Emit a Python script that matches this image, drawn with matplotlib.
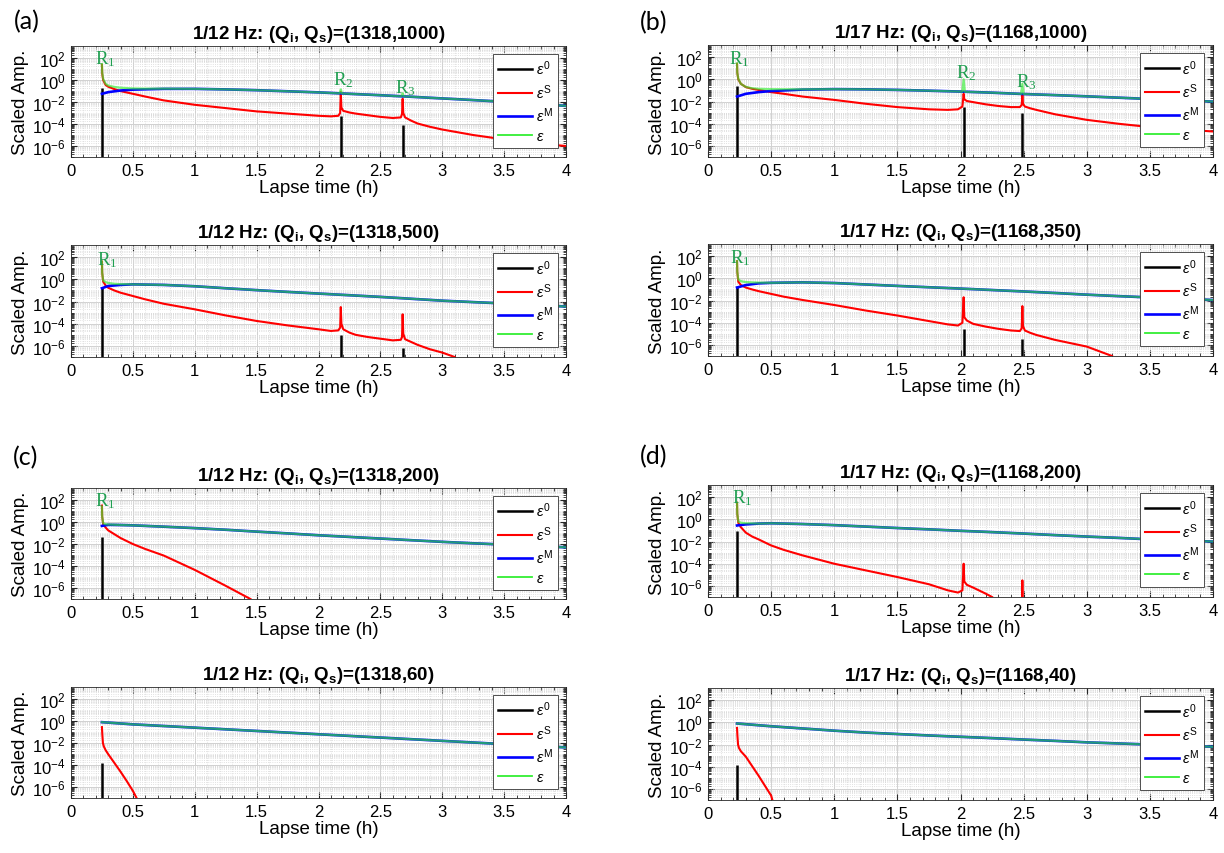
import numpy as np
import matplotlib.pyplot as plt
from matplotlib.lines import Line2D
from matplotlib.ticker import FixedLocator, FixedFormatter, MultipleLocator, LogLocator, NullFormatter

plt.rcParams['font.family'] = ['Liberation Sans', 'DejaVu Sans']
plt.rcParams['mathtext.fontset'] = 'custom'
plt.rcParams['mathtext.rm'] = 'Liberation Sans'
plt.rcParams['mathtext.it'] = 'Liberation Sans:italic'
plt.rcParams['mathtext.bf'] = 'Liberation Sans:bold'

# all amplitudes below are log10(scaled amplitude), times in hours
# ---- (a) top : 1/12 Hz, Qi=1318, Qs=1000
a1_t0 = [0.25, 2.18, 2.68]
a1_e0 = [-0.7, -3.3, -4.1]
a1_tS = [0.25, 0.252, 0.26, 0.28, 0.30, 0.35, 0.40, 0.50, 0.60, 0.75, 1.00, 1.25, 1.50, 1.75, 2.00,
         2.10, 2.16, 2.175, 2.18, 2.185, 2.20, 2.25, 2.30, 2.40, 2.50, 2.60, 2.665, 2.675, 2.68,
         2.685, 2.70, 2.75, 2.80, 2.90, 3.00, 3.25, 3.50, 3.75, 4.00]
a1_eS = [1.4, 0.6, 0.0, -0.45, -0.6, -0.82, -1.0, -1.25, -1.5, -1.85, -2.25, -2.55, -2.85, -3.05, -3.25,
         -3.3, -3.25, -3.0, -1.1, -2.5, -2.8, -2.95, -3.05, -3.2, -3.35, -3.45, -3.4, -3.1, -1.7,
         -3.0, -3.4, -3.7, -3.95, -4.25, -4.5, -5.0, -5.4, -5.75, -6.0]
a1_tM = [0.25, 0.3, 0.4, 0.5, 0.75, 1.0, 1.25, 1.5, 1.75, 2.0, 2.25, 2.5, 2.75, 3.0, 3.25, 3.5, 3.75, 4.0]
a1_eM = [-1.25, -1.1, -0.95, -0.87, -0.8, -0.8, -0.85, -0.92, -1.02, -1.12, -1.25, -1.38, -1.52, -1.67,
         -1.82, -1.98, -2.15, -2.35]
a1_tE = [0.25, 0.252, 0.26, 0.28, 0.30, 0.35, 0.40, 0.50, 0.60, 0.75, 1.0, 1.25, 1.5, 1.75, 2.0, 2.17,
         2.18, 2.19, 2.25, 2.5, 2.67, 2.68, 2.69, 2.75, 3.0, 3.25, 3.5, 3.75, 4.0]
a1_eE = [1.45, 0.7, 0.1, -0.35, -0.5, -0.62, -0.7, -0.76, -0.78, -0.78, -0.8, -0.85, -0.92, -1.02, -1.12,
         -1.21, -0.85, -1.22, -1.25, -1.38, -1.48, -1.2, -1.49, -1.52, -1.67, -1.82, -1.98, -2.15, -2.35]

# ---- (a) bottom : 1/12 Hz, Qi=1318, Qs=500
a2_t0 = [0.25, 2.18, 2.68]
a2_e0 = [-0.75, -5.05, -6.2]
a2_tS = [0.25, 0.252, 0.26, 0.28, 0.30, 0.35, 0.40, 0.50, 0.60, 0.75, 1.0, 1.25, 1.5, 1.75, 2.0, 2.10,
         2.16, 2.175, 2.18, 2.185, 2.20, 2.25, 2.30, 2.40, 2.50, 2.60, 2.665, 2.675, 2.68, 2.685,
         2.70, 2.75, 2.80, 2.90, 3.00, 3.10]
a2_eS = [1.6, 0.6, -0.2, -0.55, -0.75, -1.0, -1.2, -1.5, -1.8, -2.2, -2.7, -3.25, -3.75, -4.15, -4.5,
         -4.65, -4.6, -4.35, -2.5, -4.0, -4.5, -4.8, -5.0, -5.2, -5.35, -5.5, -5.45, -5.2, -3.15,
         -4.9, -5.4, -5.65, -5.9, -6.3, -6.6, -7.0]
a2_tM = a1_tM
a2_eM = [-0.8, -0.6, -0.5, -0.45, -0.5, -0.62, -0.8, -0.97, -1.13, -1.28, -1.43, -1.58, -1.75, -1.92,
         -2.05, -2.17, -2.3, -2.45]
a2_tE = [0.25, 0.252, 0.26, 0.28, 0.30, 0.35, 0.40, 0.5, 0.75, 1.0, 1.25, 1.5, 1.75, 2.0, 2.25, 2.5,
         2.75, 3.0, 3.25, 3.5, 3.75, 4.0]
a2_eE = [1.6, 0.6, -0.1, -0.25, -0.32, -0.4, -0.43, -0.45, -0.5, -0.62, -0.8, -0.97, -1.13, -1.28,
         -1.43, -1.58, -1.75, -1.92, -2.05, -2.17, -2.3, -2.45]

# ---- (b) top : 1/17 Hz, Qi=1168, Qs=1000
b1_t0 = [0.23, 2.025, 2.49]
b1_e0 = [-0.6, -2.5, -3.05]
b1_tS = [0.23, 0.232, 0.24, 0.26, 0.28, 0.30, 0.35, 0.40, 0.50, 0.60, 0.75, 1.0, 1.25, 1.5, 1.75, 1.9,
         1.98, 2.015, 2.025, 2.03, 2.05, 2.10, 2.2, 2.3, 2.4, 2.47, 2.485, 2.49, 2.495, 2.51, 2.55,
         2.6, 2.75, 3.0, 3.25, 3.5, 3.75, 4.0]
b1_eS = [1.4, 0.6, 0.0, -0.4, -0.55, -0.7, -0.85, -0.95, -1.15, -1.3, -1.55, -1.85, -2.2, -2.5, -2.7,
         -2.75, -2.7, -2.45, -1.3, -1.8, -1.95, -2.05, -2.25, -2.4, -2.5, -2.5, -2.3, -1.4, -2.2,
         -2.45, -2.6, -2.75, -3.15, -3.65, -4.0, -4.3, -4.5, -4.7]
b1_tM = [0.23, 0.3, 0.4, 0.5, 0.75, 1.0, 1.25, 1.5, 1.75, 2.0, 2.25, 2.5, 2.75, 3.0, 3.25, 3.5, 3.75, 4.0]
b1_eM = [-1.55, -1.3, -1.15, -1.05, -0.92, -0.88, -0.9, -0.95, -1.02, -1.1, -1.2, -1.32, -1.42, -1.53,
         -1.65, -1.77, -1.9, -2.0]
b1_tE = [0.23, 0.232, 0.24, 0.26, 0.28, 0.30, 0.35, 0.40, 0.5, 0.6, 0.75, 1.0, 1.25, 1.5, 1.75, 2.0,
         2.015, 2.025, 2.035, 2.25, 2.48, 2.49, 2.5, 2.75, 3.0, 3.25, 3.5, 3.75, 4.0]
b1_eE = [1.45, 0.6, 0.05, -0.4, -0.55, -0.68, -0.8, -0.85, -0.88, -0.89, -0.9, -0.88, -0.9, -0.95, -1.02,
         -1.1, -1.11, 0.0, -1.12, -1.2, -1.31, -0.4, -1.32, -1.42, -1.53, -1.65, -1.77, -1.9, -2.0]

# ---- (b) bottom : 1/17 Hz, Qi=1168, Qs=350
b2_t0 = [0.23, 2.025, 2.49]
b2_e0 = [-0.7, -4.55, -5.5]
b2_tS = [0.23, 0.232, 0.24, 0.26, 0.28, 0.30, 0.35, 0.40, 0.50, 0.60, 0.75, 1.0, 1.25, 1.5, 1.75, 1.9,
         1.98, 2.015, 2.025, 2.03, 2.05, 2.10, 2.2, 2.3, 2.4, 2.47, 2.485, 2.49, 2.495, 2.51, 2.55,
         2.6, 2.75, 3.0, 3.2]
b2_eS = [1.55, 0.6, -0.3, -0.6, -0.72, -0.83, -1.0, -1.15, -1.4, -1.65, -1.95, -2.4, -2.9, -3.35, -3.85,
         -4.15, -4.25, -4.0, -1.7, -3.5, -3.8, -4.1, -4.35, -4.55, -4.7, -4.75, -4.5, -2.5, -4.3,
         -4.7, -4.9, -5.1, -5.55, -6.15, -7.0]
b2_tM = b1_tM
b2_eM = [-0.83, -0.6, -0.45, -0.4, -0.36, -0.42, -0.55, -0.68, -0.8, -0.92, -1.05, -1.18, -1.32, -1.47,
         -1.6, -1.72, -1.83, -1.95]
b2_tE = [0.23, 0.232, 0.24, 0.26, 0.28, 0.30, 0.35, 0.40, 0.5, 0.75, 1.0, 1.25, 1.5, 1.75, 2.0, 2.25,
         2.5, 2.75, 3.0, 3.25, 3.5, 3.75, 4.0]
b2_eE = [1.55, 0.6, -0.1, -0.25, -0.3, -0.33, -0.36, -0.38, -0.4, -0.36, -0.42, -0.55, -0.68, -0.8,
         -0.92, -1.05, -1.18, -1.32, -1.47, -1.6, -1.72, -1.83, -1.95]

# ---- (c) top : 1/12 Hz, Qi=1318, Qs=200
c1_t0 = [0.25]
c1_e0 = [-1.4]
c1_tS = [0.25, 0.252, 0.26, 0.28, 0.30, 0.35, 0.40, 0.50, 0.60, 0.75, 1.0, 1.25, 1.45]
c1_eS = [1.5, 0.5, -0.2, -0.5, -0.75, -1.1, -1.45, -2.0, -2.45, -3.05, -4.35, -5.8, -7.0]
c1_tM = a1_tM
c1_eM = [-0.35, -0.25, -0.27, -0.3, -0.42, -0.55, -0.7, -0.87, -1.03, -1.2, -1.35, -1.5, -1.65, -1.8,
         -1.93, -2.05, -2.17, -2.3]
c1_tE = [0.25, 0.252, 0.26, 0.28, 0.30, 0.4, 0.5, 0.75, 1.0, 1.25, 1.5, 1.75, 2.0, 2.25, 2.5, 2.75,
         3.0, 3.25, 3.5, 3.75, 4.0]
c1_eE = [1.4, 0.5, -0.1, -0.2, -0.22, -0.27, -0.3, -0.42, -0.55, -0.7, -0.87, -1.03, -1.2, -1.35, -1.5,
         -1.65, -1.8, -1.93, -2.05, -2.17, -2.3]

# ---- (c) bottom : 1/12 Hz, Qi=1318, Qs=60
c2_t0 = [0.25]
c2_e0 = [-3.8]
c2_tS = [0.25, 0.253, 0.258, 0.265, 0.28, 0.30, 0.35, 0.40, 0.45, 0.50, 0.53]
c2_eS = [-0.55, -1.2, -2.0, -2.3, -2.65, -3.0, -3.8, -4.6, -5.45, -6.35, -7.0]
c2_tM = [0.25, 0.5, 0.75, 1.0, 1.25, 1.5, 1.75, 2.0, 2.25, 2.5, 2.75, 3.0, 3.25, 3.5, 3.75, 4.0]
c2_eM = [-0.1, -0.3, -0.45, -0.6, -0.75, -0.9, -1.05, -1.2, -1.35, -1.5, -1.65, -1.8, -1.95, -2.1,
         -2.25, -2.4]
c2_tE = c2_tM
c2_eE = c2_eM

# ---- (d) top : 1/17 Hz, Qi=1168, Qs=200
d1_t0 = [0.23]
d1_e0 = [-1.05]
d1_tS = [0.23, 0.232, 0.24, 0.26, 0.28, 0.30, 0.35, 0.40, 0.50, 0.60, 0.75, 1.0, 1.25, 1.5, 1.75, 1.9,
         1.98, 2.015, 2.025, 2.03, 2.05, 2.10, 2.2, 2.25, np.nan, 2.488, 2.49, 2.492]
d1_eS = [1.5, 0.5, -0.3, -0.7, -0.95, -1.2, -1.55, -1.8, -2.35, -2.75, -3.25, -4.0, -4.6, -5.2, -5.85,
         -6.4, -6.6, -6.4, -4.0, -5.6, -5.9, -6.15, -6.7, -7.0, np.nan, -7.5, -5.5, -7.5]
d1_tM = b1_tM
d1_eM = [-0.55, -0.45, -0.38, -0.35, -0.42, -0.52, -0.65, -0.78, -0.9, -1.03, -1.15, -1.28, -1.42, -1.55,
         -1.67, -1.8, -1.9, -2.0]
d1_tE = [0.23, 0.232, 0.24, 0.26, 0.30, 0.4, 0.5, 0.75, 1.0, 1.25, 1.5, 1.75, 2.0, 2.25, 2.5, 2.75,
         3.0, 3.25, 3.5, 3.75, 4.0]
d1_eE = [1.5, 0.5, -0.2, -0.3, -0.35, -0.38, -0.35, -0.42, -0.52, -0.65, -0.78, -0.9, -1.03, -1.15,
         -1.28, -1.42, -1.55, -1.67, -1.8, -1.9, -2.0]

# ---- (d) bottom : 1/17 Hz, Qi=1168, Qs=40
d2_t0 = [0.23]
d2_e0 = [-3.8]
d2_tS = [0.23, 0.233, 0.238, 0.245, 0.26, 0.28, 0.30, 0.35, 0.40, 0.45, 0.50, 0.51]
d2_eS = [-0.5, -1.2, -2.0, -2.3, -2.6, -2.85, -3.1, -3.95, -4.8, -5.7, -6.6, -7.0]
d2_tM = [0.23, 0.5, 0.75, 1.0, 1.25, 1.5, 1.75, 2.0, 2.25, 2.5, 2.75, 3.0, 3.25, 3.5, 3.75, 4.0]
d2_eM = [-0.1, -0.35, -0.55, -0.75, -0.92, -1.05, -1.18, -1.3, -1.42, -1.55, -1.67, -1.8, -1.9, -2.0,
         -2.1, -2.2]
d2_tE = d2_tM
d2_eE = d2_eM

# peak labels: (subscript, time, log10 amp)
a1_R = [('1', 0.28, 2.0), ('2', 2.20, 0.05), ('3', 2.705, -0.6)]
a2_R = [('1', 0.29, 1.85)]
b1_R = [('1', 0.25, 1.95), ('2', 2.045, 0.68), ('3', 2.52, -0.2)]
b2_R = [('1', 0.254, 1.95)]
c1_R = [('1', 0.275, 2.0)]
c2_R = []
d1_R = [('1', 0.27, 2.0)]
d2_R = []

titles = {
    'a1': r'1/12 Hz: (Q$_\mathbf{i}$, Q$_\mathbf{s}$)=(1318,1000)',
    'a2': r'1/12 Hz: (Q$_\mathbf{i}$, Q$_\mathbf{s}$)=(1318,500)',
    'b1': r'1/17 Hz: (Q$_\mathbf{i}$, Q$_\mathbf{s}$)=(1168,1000)',
    'b2': r'1/17 Hz: (Q$_\mathbf{i}$, Q$_\mathbf{s}$)=(1168,350)',
    'c1': r'1/12 Hz: (Q$_\mathbf{i}$, Q$_\mathbf{s}$)=(1318,200)',
    'c2': r'1/12 Hz: (Q$_\mathbf{i}$, Q$_\mathbf{s}$)=(1318,60)',
    'd1': r'1/17 Hz: (Q$_\mathbf{i}$, Q$_\mathbf{s}$)=(1168,200)',
    'd2': r'1/17 Hz: (Q$_\mathbf{i}$, Q$_\mathbf{s}$)=(1168,40)',
}

panels = {
    'a1': (a1_t0, a1_e0, a1_tS, a1_eS, a1_tM, a1_eM, a1_tE, a1_eE, a1_R),
    'a2': (a2_t0, a2_e0, a2_tS, a2_eS, a2_tM, a2_eM, a2_tE, a2_eE, a2_R),
    'b1': (b1_t0, b1_e0, b1_tS, b1_eS, b1_tM, b1_eM, b1_tE, b1_eE, b1_R),
    'b2': (b2_t0, b2_e0, b2_tS, b2_eS, b2_tM, b2_eM, b2_tE, b2_eE, b2_R),
    'c1': (c1_t0, c1_e0, c1_tS, c1_eS, c1_tM, c1_eM, c1_tE, c1_eE, c1_R),
    'c2': (c2_t0, c2_e0, c2_tS, c2_eS, c2_tM, c2_eM, c2_tE, c2_eE, c2_R),
    'd1': (d1_t0, d1_e0, d1_tS, d1_eS, d1_tM, d1_eM, d1_tE, d1_eE, d1_R),
    'd2': (d2_t0, d2_e0, d2_tS, d2_eS, d2_tM, d2_eM, d2_tE, d2_eE, d2_R),
}

xticks = [0, 0.5, 1, 1.5, 2, 2.5, 3, 3.5, 4]
xticklabels = ['0', '0.5', '1', '1.5', '2', '2.5', '3', '3.5', '4']
yticks = [1e-6, 1e-4, 1e-2, 1e0, 1e2]
yticklabels = [r'$10^{-6}$', r'$10^{-4}$', r'$10^{-2}$', r'$10^{0}$', r'$10^{2}$']
leg_labels = [r'$\epsilon^{\mathrm{0}}$', r'$\epsilon^{\mathrm{S}}$', r'$\epsilon^{\mathrm{M}}$',
              r'$\epsilon$']

col_red = '#ff0000'
col_blue = '#0000ff'
col_green = '#33ee33'
col_R = '#1f9e50'

# pixel layout of the 1224x854 figure
W, H = 1224, 854
cols = {'a': (71, 566), 'c': (71, 566), 'b': (708, 1213), 'd': (708, 1213)}
rows = {'a1': (47, 158), 'a2': (246, 358), 'b1': (46, 158), 'b2': (245, 357),
        'c1': (489, 600), 'c2': (688, 799), 'd1': (486, 598), 'd2': (689, 801)}

fig = plt.figure(figsize=(12.24, 8.54), dpi=100)

for key, (t0, e0, tS, eS, tM, eM, tE, eE, Rs) in panels.items():
    x0, x1 = cols[key[0]]
    top, bot = rows[key]
    ax = fig.add_axes([x0 / W, 1 - bot / H, (x1 - x0) / W, (bot - top) / H])

    ax.vlines(t0, 1e-9, 10 ** np.array(e0), color='k', lw=1.8, zorder=2)
    ax.plot(tS, 10 ** np.array(eS), color=col_red, lw=1.5, zorder=3)
    ax.plot(tM, 10 ** np.array(eM), color=col_blue, lw=1.9, zorder=4)
    ax.plot(tE, 10 ** np.array(eE), color=col_green, lw=1.6, alpha=0.65, zorder=5)

    for sub, tx, ly in Rs:
        ax.text(tx, 10 ** ly, r'$\mathregular{R_' + sub + '}$', family='Liberation Serif',
                fontsize=13.5, color=col_R, ha='center', va='center', zorder=6)

    ax.set_yscale('log')
    ax.set_xlim(0, 4)
    ax.set_ylim(1e-7, 10 ** 3.1)
    ax.xaxis.set_major_locator(FixedLocator(xticks))
    ax.xaxis.set_major_formatter(FixedFormatter(xticklabels))
    ax.xaxis.set_minor_locator(MultipleLocator(0.1))
    ax.yaxis.set_major_locator(FixedLocator(yticks))
    ax.yaxis.set_major_formatter(FixedFormatter(yticklabels))
    ax.yaxis.set_minor_locator(LogLocator(base=10, subs=np.arange(1, 10), numticks=100))
    ax.yaxis.set_minor_formatter(NullFormatter())
    ax.grid(which='major', color='#d0d0d0', lw=0.7)
    ax.grid(which='minor', color='#d8d8d8', lw=0.6, ls=':')
    ax.set_axisbelow(True)
    ax.tick_params(which='both', direction='in', top=True, right=True, color='#262626',
                   labelsize=12, pad=4)
    ax.tick_params(which='major', length=4)
    ax.tick_params(which='minor', length=2)
    for s in ax.spines.values():
        s.set_color('#262626')
        s.set_linewidth(0.6)

    ax.set_title(titles[key], fontsize=13.5, fontweight='bold', pad=6)
    ax.set_xlabel('Lapse time (h)', fontsize=13.5, labelpad=1)
    ax.set_ylabel('Scaled Amp.', fontsize=13.5, labelpad=2)

    handles = [Line2D([], [], color='k', lw=1.8), Line2D([], [], color=col_red, lw=1.5),
               Line2D([], [], color=col_blue, lw=1.9), Line2D([], [], color=col_green, lw=1.3)]
    leg = ax.legend(handles, leg_labels, loc='upper right', bbox_to_anchor=(0.983, 0.93),
                    borderaxespad=0, fontsize=10.5, labelspacing=0.32, handlelength=2.3,
                    handletextpad=0.25, borderpad=0.35, fancybox=False, framealpha=1,
                    edgecolor='#333333')
    leg.get_frame().set_linewidth(0.6)
    leg.set_zorder(10)

for lab, x, y in [('(a)', 14, 22), ('(b)', 640, 23), ('(c)', 13, 458), ('(d)', 640, 457)]:
    fig.text(x / W, 1 - y / H, lab, fontsize=18, family=['Lato', 'DejaVu Sans'],
             ha='left', va='center')

fig.savefig('out.png', dpi=100)
